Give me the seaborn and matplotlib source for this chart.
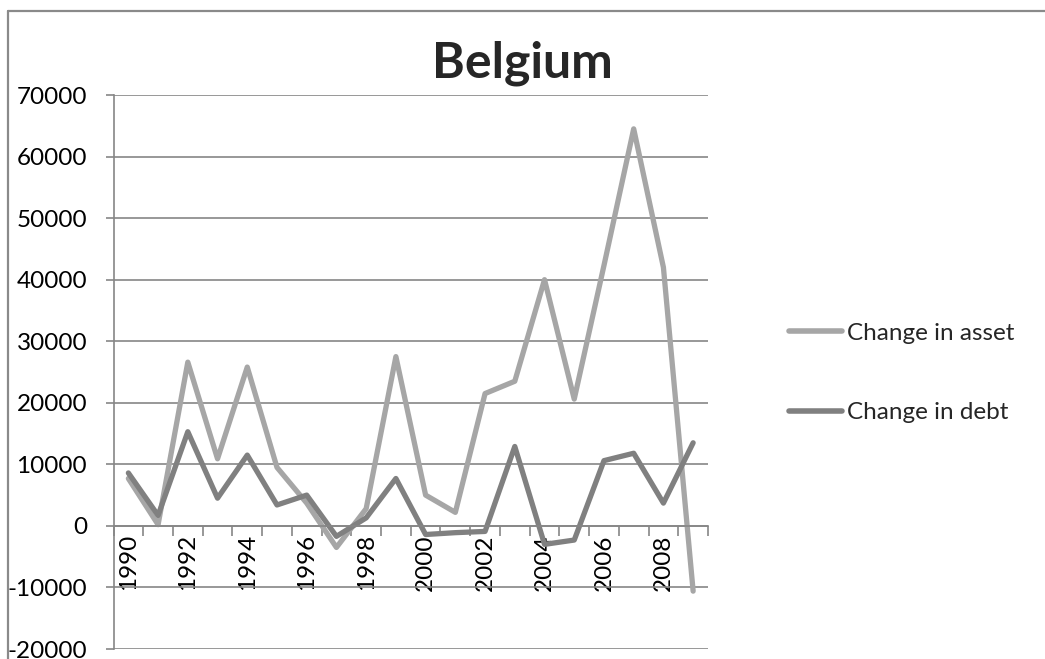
import matplotlib
matplotlib.use("Agg")
import matplotlib.pyplot as plt
from matplotlib.lines import Line2D
import numpy as np
import pandas as pd
import seaborn as sns

# Annual changes, Belgium
years = list(range(1990, 2010))
change_in_asset = [7700, 200, 26600, 10900, 25800, 9500, 3700, -3500, 2800, 27500,
                   5000, 2200, 21500, 23500, 40000, 20600, 42300, 64500, 42000, -10600]
change_in_debt = [8600, 1700, 15300, 4500, 11500, 3400, 5000, -1700, 1300, 7700,
                  -1400, -1100, -900, 12900, -3000, -2300, 10600, 11800, 3700, 13500]
series_names = ["Change in asset", "Change in debt"]
series_colors = ["#a6a6a6", "#808080"]
y_ticks = list(range(-20000, 70001, 10000))

df = pd.DataFrame({
    "pos": list(range(len(years))) * 2,
    "value": change_in_asset + change_in_debt,
    "series": [series_names[0]] * len(years) + [series_names[1]] * len(years),
})

sns.set_theme(style="white")
plt.rcParams["font.family"] = ["Lato", "DejaVu Sans"]

W, H = 1045, 659
fig = plt.figure(figsize=(W / 100, H / 100), dpi=100)
ax = fig.add_axes([113.5 / W, 1 - 649 / H, (708 - 113.5) / W, (649 - 95) / H])

grid_col = "#868686"
sns.lineplot(data=df, x="pos", y="value", hue="series", palette=series_colors,
             hue_order=series_names, linewidth=3.8, ax=ax, legend=False,
             solid_joinstyle="round", solid_capstyle="round", sort=False)

ax.set_xlim(-0.5, len(years) - 0.5)
ax.set_ylim(y_ticks[0], y_ticks[-1])
ax.set_xlabel("")
ax.set_ylabel("")

# horizontal gridlines
ax.set_yticks(y_ticks)
ax.set_yticklabels([str(v) for v in y_ticks])
ax.yaxis.grid(True, color=grid_col, linewidth=1.2)
ax.xaxis.grid(False)
ax.set_axisbelow(True)

for s in ["top", "right"]:
    ax.spines[s].set_visible(False)
ax.spines["left"].set_color(grid_col)
ax.spines["left"].set_linewidth(1.2)
ax.spines["bottom"].set_position(("data", 0))
ax.spines["bottom"].set_color(grid_col)
ax.spines["bottom"].set_linewidth(1.2)

ax.tick_params(axis="y", which="major", left=True, direction="out", length=6,
               width=1.2, color=grid_col, labelsize=17.5, pad=13, labelcolor="black")

# category axis: labels every other year, ticks at category boundaries
ax.set_xticks(list(range(0, len(years), 2)))
ax.set_xticklabels([str(y) for y in years[::2]], rotation=90)
ax.set_xticks(np.arange(-0.5, len(years), 1.0), minor=True)
ax.tick_params(axis="x", which="major", bottom=True, length=0, labelsize=17.5, pad=6,
               labelcolor="black")
ax.tick_params(axis="x", which="minor", bottom=True, direction="out", length=7,
               width=1.2, color=grid_col)

fig.text(522 / W, 1 - 63 / H, "Belgium", ha="center", va="center",
         fontsize=36, fontweight="bold")

handles = [Line2D([], [], color=c, linewidth=4, solid_capstyle="round") for c in series_colors]
fig.legend(handles, series_names, loc="center left",
           bbox_to_anchor=(789 / W, 1 - 373 / H), frameon=False, fontsize=17.5,
           handlelength=2.2, handletextpad=0.2, labelspacing=2.4, borderpad=0,
           borderaxespad=0)

# chart frame
frame_col = "#8a8a8a"
fig.add_artist(Line2D([8 / W, 8 / W], [0, 1 - 11 / H], transform=fig.transFigure,
                      color=frame_col, linewidth=1.6))
fig.add_artist(Line2D([8 / W, 1], [1 - 11 / H, 1 - 11 / H], transform=fig.transFigure,
                      color=frame_col, linewidth=1.6))

fig.savefig("out.png", dpi=100, facecolor="white")
